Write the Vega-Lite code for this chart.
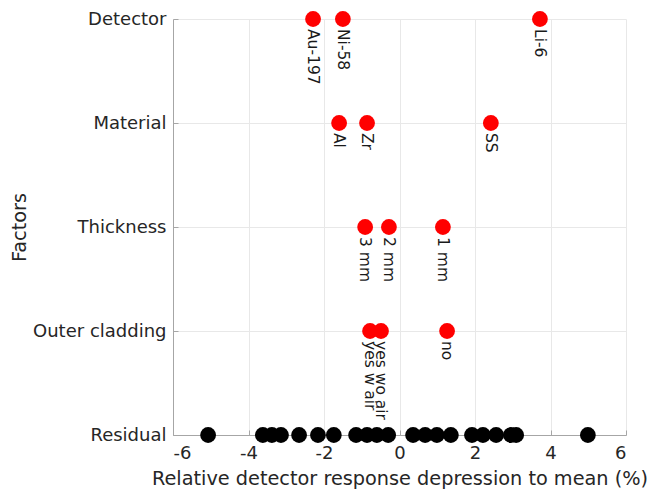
{
  "$schema": "https://vega.github.io/schema/vega-lite/v6.json",
  "width": 453,
  "height": 416,
  "autosize": {"type": "none"},
  "padding": {"left": 173, "top": 19, "right": 28, "bottom": 56},
  "background": "white",
  "config": {
    "font": "DejaVu Sans",
    "view": {"stroke": null},
    "axis": {
      "domainColor": "#a6a6a6",
      "domainWidth": 1,
      "tickColor": "#a6a6a6",
      "gridColor": "#e8e8e8",
      "labelColor": "#262626",
      "titleColor": "#262626",
      "labelFont": "DejaVu Sans",
      "titleFont": "DejaVu Sans",
      "titleFontWeight": "normal"
    }
  },
  "data": {
    "values": [
      {"factor": "Detector", "value": -2.29, "label": "Au-197", "group": "factor"},
      {"factor": "Detector", "value": -1.5, "label": "Ni-58", "group": "factor"},
      {"factor": "Detector", "value": 3.72, "label": "Li-6", "group": "factor"},
      {"factor": "Material", "value": -1.6, "label": "Al", "group": "factor"},
      {"factor": "Material", "value": -0.86, "label": "Zr", "group": "factor"},
      {"factor": "Material", "value": 2.42, "label": "SS", "group": "factor"},
      {"factor": "Thickness", "value": -0.91, "label": "3 mm", "group": "factor"},
      {"factor": "Thickness", "value": -0.28, "label": "2 mm", "group": "factor"},
      {"factor": "Thickness", "value": 1.15, "label": "1 mm", "group": "factor"},
      {"factor": "Outer cladding", "value": -0.78, "label": "yes w air", "group": "factor"},
      {"factor": "Outer cladding", "value": -0.49, "label": "yes wo air", "group": "factor"},
      {"factor": "Outer cladding", "value": 1.26, "label": "no", "group": "factor"},
      {"factor": "Residual", "value": -5.07, "label": "", "group": "residual"},
      {"factor": "Residual", "value": -3.62, "label": "", "group": "residual"},
      {"factor": "Residual", "value": -3.38, "label": "", "group": "residual"},
      {"factor": "Residual", "value": -3.14, "label": "", "group": "residual"},
      {"factor": "Residual", "value": -2.66, "label": "", "group": "residual"},
      {"factor": "Residual", "value": -2.16, "label": "", "group": "residual"},
      {"factor": "Residual", "value": -1.74, "label": "", "group": "residual"},
      {"factor": "Residual", "value": -1.15, "label": "", "group": "residual"},
      {"factor": "Residual", "value": -0.86, "label": "", "group": "residual"},
      {"factor": "Residual", "value": -0.6, "label": "", "group": "residual"},
      {"factor": "Residual", "value": -0.3, "label": "", "group": "residual"},
      {"factor": "Residual", "value": 0.36, "label": "", "group": "residual"},
      {"factor": "Residual", "value": 0.68, "label": "", "group": "residual"},
      {"factor": "Residual", "value": 0.99, "label": "", "group": "residual"},
      {"factor": "Residual", "value": 1.36, "label": "", "group": "residual"},
      {"factor": "Residual", "value": 1.92, "label": "", "group": "residual"},
      {"factor": "Residual", "value": 2.21, "label": "", "group": "residual"},
      {"factor": "Residual", "value": 2.56, "label": "", "group": "residual"},
      {"factor": "Residual", "value": 2.95, "label": "", "group": "residual"},
      {"factor": "Residual", "value": 3.09, "label": "", "group": "residual"},
      {"factor": "Residual", "value": 4.99, "label": "", "group": "residual"}
    ]
  },
  "encoding": {
    "x": {
      "field": "value",
      "type": "quantitative",
      "scale": {"domain": [-6, 6], "nice": false, "zero": false},
      "axis": {
        "values": [-6, -4, -2, 0, 2, 4, 6],
        "labelExpr": "'' + datum.value",
        "title": "Relative detector response depression to mean (%)",
        "titleFontSize": 19.3,
        "labelFontSize": 18,
        "labelPadding": 14,
        "titlePadding": 7,
        "tickSize": -5,
        "grid": true
      }
    },
    "y": {
      "field": "factor",
      "type": "nominal",
      "sort": ["Detector", "Material", "Thickness", "Outer cladding", "Residual"],
      "scale": {"type": "point", "padding": 0},
      "axis": {
        "title": "Factors",
        "titleFontSize": 19.3,
        "labelFontSize": 18,
        "labelPadding": 12,
        "tickSize": -5,
        "titlePadding": 3,
        "grid": true
      }
    }
  },
  "layer": [
    {
      "mark": {"type": "point", "filled": true, "opacity": 1, "size": 250, "shape": "circle"},
      "encoding": {
        "color": {
          "field": "group",
          "type": "nominal",
          "scale": {"domain": ["factor", "residual"], "range": ["#ff0000", "#000000"]},
          "legend": null
        }
      }
    },
    {
      "transform": [{"filter": "datum.label != ''"}],
      "mark": {"type": "text", "angle": 90, "align": "left", "baseline": "middle", "dx": 10, "fontSize": 15.5, "color": "#1a1a1a"},
      "encoding": {"text": {"field": "label"}}
    }
  ]
}
